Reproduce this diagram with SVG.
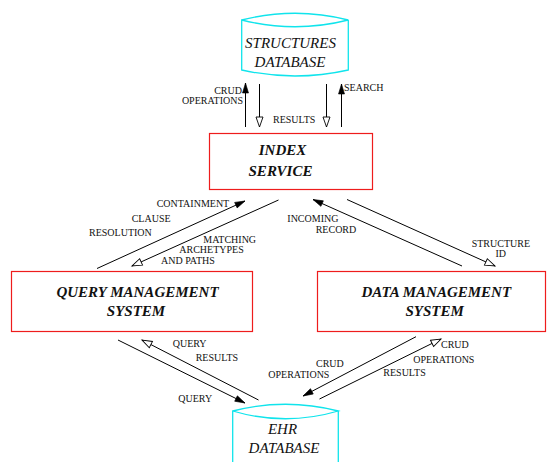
<svg xmlns="http://www.w3.org/2000/svg" width="547" height="462" viewBox="0 0 547 462">
  <style>
    .box { fill: none; stroke: #ee1c1c; stroke-width: 1.2; }
    .db { fill: none; stroke: #10e4ec; stroke-width: 1.3; }
    .title { font-family: "Liberation Serif", "Times New Roman", serif; font-size: 15px; font-style: italic; font-weight: bold; fill: #111; text-anchor: middle; }
    .dbtitle { font-family: "Liberation Serif", "Times New Roman", serif; font-size: 15px; font-style: italic; fill: #111; text-anchor: middle; }
    .lbl { font-family: "Liberation Serif", "Times New Roman", serif; font-size: 10px; fill: #111; }
    .conn line { stroke: #000; stroke-width: 1; }
    .solid { marker-end: url(#headFilled); }
    .hollow { marker-end: url(#headOpen); }
  </style>
  <defs>
    <marker id="headFilled" markerUnits="userSpaceOnUse" markerWidth="12" markerHeight="8" refX="10" refY="3" orient="auto" overflow="visible">
      <path d="M0,0 L10,3 L0,6 z" fill="#000" stroke="#000" stroke-width="0.6"/>
    </marker>
    <marker id="headOpen" markerUnits="userSpaceOnUse" markerWidth="12" markerHeight="8" refX="10" refY="3.5" orient="auto" overflow="visible">
      <path d="M0,0 L10,3.5 L0,7 z" fill="#fff" stroke="#000" stroke-width="0.9"/>
    </marker>
  </defs>
  <rect width="547" height="462" fill="#fff"/>

  <!-- Structures database (cylinder) -->
  <g id="structures-db">
    <path class="db" d="M241.7,20 Q295,6.5 348.3,20 Q295,33.5 241.7,20 L241.7,70 Q295,82 348.3,70 L348.3,20"/>
    <text class="dbtitle" x="290.5" y="48">STRUCTURES</text>
    <text class="dbtitle" x="290" y="66.5">DATABASE</text>
  </g>

  <!-- Index service -->
  <g id="index-service">
    <rect class="box" x="209.5" y="133.5" width="163" height="56"/>
    <text class="title" x="282.5" y="154.5">INDEX</text>
    <text class="title" x="280.5" y="175.5">SERVICE</text>
  </g>

  <!-- Query management system -->
  <g id="query-management">
    <rect class="box" x="11.5" y="271.5" width="241" height="60"/>
    <text class="title" x="137.5" y="297">QUERY MANAGEMENT</text>
    <text class="title" x="136" y="316">SYSTEM</text>
  </g>

  <!-- Data management system -->
  <g id="data-management">
    <rect class="box" x="317.5" y="271.5" width="228" height="60"/>
    <text class="title" x="436.3" y="297">DATA MANAGEMENT</text>
    <text class="title" x="434.7" y="316">SYSTEM</text>
  </g>

  <!-- EHR database (cylinder, runs off the bottom edge) -->
  <g id="ehr-db">
    <path class="db" d="M232.7,470 L232.7,411 Q285.5,397.5 338.3,411 Q285.5,426.5 232.7,411 M338.3,411 L338.3,470"/>
    <text class="dbtitle" x="282.5" y="433.5">EHR</text>
    <text class="dbtitle" x="284" y="452.5">DATABASE</text>
  </g>

  <!-- Connectors -->
  <g id="connectors" class="conn">
    <line class="solid" x1="245.5" y1="127" x2="245.5" y2="83"/>
    <line class="hollow" x1="259.5" y1="84" x2="259.5" y2="127"/>
    <line class="hollow" x1="326.5" y1="84" x2="326.5" y2="127"/>
    <line class="solid" x1="341.5" y1="127" x2="341.5" y2="84"/>

    <line class="solid" x1="97" y1="268.5" x2="245" y2="201"/>
    <line class="hollow" x1="278.5" y1="200" x2="132" y2="266"/>
    <line class="solid" x1="462" y1="266" x2="313" y2="199.5"/>
    <line class="hollow" x1="347" y1="199.5" x2="495" y2="266"/>

    <line class="solid" x1="118" y1="340" x2="245" y2="403"/>
    <line class="hollow" x1="258.5" y1="400" x2="142" y2="340"/>
    <line class="solid" x1="416" y1="336.7" x2="303" y2="396"/>
    <line class="hollow" x1="319.5" y1="399" x2="441" y2="339"/>
  </g>

  <!-- Connector labels -->
  <g id="labels" class="lbl">
    <text x="242" y="94" text-anchor="end">CRUD</text>
    <text x="243" y="103.5" text-anchor="end">OPERATIONS</text>
    <text x="273" y="122.5">RESULTS</text>
    <text x="344" y="91">SEARCH</text>

    <text x="156.7" y="207.3">CONTAINMENT</text>
    <text x="131.7" y="221.7">CLAUSE</text>
    <text x="89" y="235.7">RESOLUTION</text>
    <text x="203.3" y="243.3">MATCHING</text>
    <text x="179.3" y="253.3">ARCHETYPES</text>
    <text x="161" y="264">AND PATHS</text>

    <text x="287.3" y="221.7">INCOMING</text>
    <text x="315.7" y="232.7">RECORD</text>
    <text x="471.7" y="246.7">STRUCTURE</text>
    <text x="500.8" y="257.3" text-anchor="middle">ID</text>

    <text x="172.7" y="347.3">QUERY</text>
    <text x="195.7" y="361">RESULTS</text>
    <text x="178.3" y="402.3">QUERY</text>

    <text x="316" y="367.3">CRUD</text>
    <text x="268.3" y="377.7">OPERATIONS</text>
    <text x="441" y="348.3">CRUD</text>
    <text x="413.3" y="363.3">OPERATIONS</text>
    <text x="383.3" y="376">RESULTS</text>
  </g>
</svg>
